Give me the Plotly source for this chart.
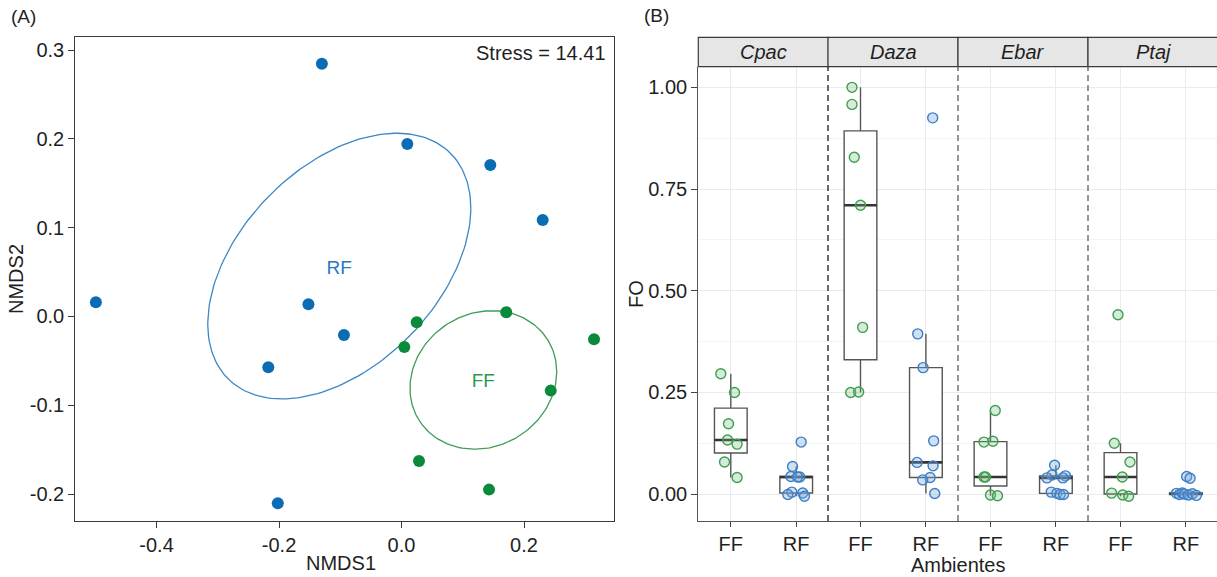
import numpy as np
import plotly.graph_objects as go

W, H = 1217, 577
FONT = "Liberation Sans"

# ---------------- Panel A data (NMDS) ----------------
rf_nmds1 = [-0.130, 0.0095, 0.145, 0.2305, -0.499, -0.152, -0.094, -0.2175, -0.202]
rf_nmds2 = [0.2847, 0.1943, 0.1706, 0.1087, 0.016, 0.0137, -0.0208, -0.0572, -0.2104]
ff_nmds1 = [0.0248, 0.0046, 0.171, 0.3143, 0.2436, 0.0286, 0.1429]
ff_nmds2 = [-0.0066, -0.0343, 0.0047, -0.0257, -0.0835, -0.1627, -0.195]

rf_ell_center = [-0.1016, 0.0568]
rf_ell_cov = [[0.0461, 0.0140], [0.0140, 0.02238]]
ff_ell_center = [0.1336, -0.0715]
ff_ell_cov = [[0.01435, 0.0011], [0.0011, 0.006084]]
stress_text = "Stress = 14.41"

a_xticks = [-0.4, -0.2, 0.0, 0.2]
a_xticklabels = ["-0.4", "-0.2", "0.0", "0.2"]
a_yticks = [-0.2, -0.1, 0.0, 0.1, 0.2, 0.3]
a_yticklabels = ["-0.2", "-0.1", "0.0", "0.1", "0.2", "0.3"]

# ---------------- Panel B data (FO) ----------------
species = ["Cpac", "Daza", "Ebar", "Ptaj"]
ambientes = ["FF", "RF"]

cpac_ff = [0.296, 0.250, 0.173, 0.133, 0.123, 0.079, 0.041]
cpac_rf = [0.128, 0.068, 0.0435, 0.042, 0.042, 0.005, 0.003, -0.001, -0.005]
daza_ff = [1.000, 0.958, 0.828, 0.710, 0.410, 0.250, 0.251]
daza_rf = [0.925, 0.394, 0.311, 0.131, 0.078, 0.0696, 0.041, 0.035, 0.0017]
ebar_ff = [0.2055, 0.128, 0.130, 0.042, 0.042, -0.002, -0.004]
ebar_rf = [0.071, 0.047, 0.040, 0.045, 0.040, 0.005, 0.002, -0.001, -0.001]
ptaj_ff = [0.441, 0.125, 0.079, 0.042, 0.0025, -0.002, -0.005]
ptaj_rf = [0.0435, 0.039, 0.002, -0.001, 0.003, 0.0, -0.002, 0.001, -0.003]

# horizontal jitter (in category units)
cpac_ff_jit = [-0.153, 0.057, -0.035, -0.05, 0.096, -0.096, 0.096]
cpac_rf_jit = [0.076, -0.056, -0.082, 0.055, 0.02, -0.067, 0.10, -0.128, 0.126]
daza_ff_jit = [-0.13, -0.13, -0.095, 0.0, 0.033, -0.15, -0.028]
daza_rf_jit = [0.104, -0.125, -0.043, 0.119, -0.135, 0.11, 0.064, -0.049, 0.135]
ebar_ff_jit = [0.072, -0.10, 0.037, -0.10, -0.076, 0.0, 0.107]
ebar_rf_jit = [-0.02, -0.06, -0.137, 0.146, 0.107, -0.072, 0.015, 0.065, 0.116]
ptaj_ff_jit = [-0.038, -0.095, 0.145, 0.028, -0.135, 0.034, 0.125]
ptaj_rf_jit = [0.012, 0.064, -0.145, -0.1, -0.054, -0.023, 0.038, 0.1, 0.16]

b_yticks = [0.0, 0.25, 0.5, 0.75, 1.0]
b_yticklabels = ["0.00", "0.25", "0.50", "0.75", "1.00"]

groups = {
    "Cpac": [(cpac_ff, cpac_ff_jit), (cpac_rf, cpac_rf_jit)],
    "Daza": [(daza_ff, daza_ff_jit), (daza_rf, daza_rf_jit)],
    "Ebar": [(ebar_ff, ebar_ff_jit), (ebar_rf, ebar_rf_jit)],
    "Ptaj": [(ptaj_ff, ptaj_ff_jit), (ptaj_rf, ptaj_rf_jit)],
}

# ---------------- styles ----------------
BLUE = "#0b6cb6"
GREEN = "#0b8a3c"
BLUE_LINE = "#3b87c7"
GREEN_LINE = "#3f9d57"
PT_EDGE = {"FF": "#3f9f4f", "RF": "#3c7fc6"}
PT_FILL = {"FF": "rgba(120,190,130,0.30)", "RF": "rgba(120,165,220,0.35)"}
TXT = "#1f1f1f"
FS = 20


def px_x(p):
    return p / W


def px_y(p):
    return 1 - p / H


fig = go.Figure()

# ---------- Panel A ----------
def ellipse(center, cov, n=200):
    L = np.linalg.cholesky(np.array(cov))
    t = np.linspace(0, 2 * np.pi, n)
    pts = L @ np.vstack([np.cos(t), np.sin(t)])
    return center[0] + pts[0], center[1] + pts[1]

ex, ey = ellipse(rf_ell_center, rf_ell_cov)
fig.add_trace(go.Scatter(x=ex, y=ey, mode="lines", line=dict(color=BLUE_LINE, width=1.3),
                         xaxis="x", yaxis="y", showlegend=False, hoverinfo="skip"))
ex, ey = ellipse(ff_ell_center, ff_ell_cov)
fig.add_trace(go.Scatter(x=ex, y=ey, mode="lines", line=dict(color=GREEN_LINE, width=1.3),
                         xaxis="x", yaxis="y", showlegend=False, hoverinfo="skip"))
fig.add_trace(go.Scatter(x=rf_nmds1, y=rf_nmds2, mode="markers",
                         marker=dict(color=BLUE, size=12), xaxis="x", yaxis="y", showlegend=False))
fig.add_trace(go.Scatter(x=ff_nmds1, y=ff_nmds2, mode="markers",
                         marker=dict(color=GREEN, size=12), xaxis="x", yaxis="y", showlegend=False))
fig.add_trace(go.Scatter(x=[rf_ell_center[0]], y=[rf_ell_center[1] - 0.004], mode="text", text=["RF"],
                         textfont=dict(family=FONT, size=19, color="#2a78bf"),
                         xaxis="x", yaxis="y", showlegend=False, hoverinfo="skip"))
fig.add_trace(go.Scatter(x=[ff_ell_center[0]], y=[ff_ell_center[1] - 0.0025], mode="text", text=["FF"],
                         textfont=dict(family=FONT, size=19, color="#2c9a4c"),
                         xaxis="x", yaxis="y", showlegend=False, hoverinfo="skip"))

# ---------- Panel B ----------
panel_left = [698.3, 828.0, 958.0, 1088.0]
panel_w = 130.0
xaxis_names = ["x2", "x3", "x4", "x5"]

for si, sp in enumerate(species):
    xa = xaxis_names[si]
    for ai, amb in enumerate(ambientes):
        vals, jit = groups[sp][ai]
        pos = ai + 1
        v = np.array(vals)
        q1, med, q3 = np.percentile(v, [25, 50, 75])
        iqr = q3 - q1
        lo = v[v >= q1 - 1.5 * iqr].min()
        hi = v[v <= q3 + 1.5 * iqr].max()
        fig.add_trace(go.Box(x=[pos], q1=[q1], median=[med], q3=[q3], lowerfence=[lo], upperfence=[hi],
                             width=0.5, whiskerwidth=0, fillcolor="white",
                             line=dict(color="#555555", width=1.4), boxpoints=False,
                             xaxis=xa, yaxis="y2", showlegend=False, hoverinfo="skip"))
        fig.add_trace(go.Scatter(x=[pos - 0.25, pos + 0.25], y=[med, med], mode="lines",
                                 line=dict(color="#333333", width=2.6),
                                 xaxis=xa, yaxis="y2", showlegend=False, hoverinfo="skip"))
        fig.add_trace(go.Scatter(x=[pos + j for j in jit], y=vals, mode="markers",
                                 marker=dict(size=10, color=PT_FILL[amb],
                                             line=dict(color=PT_EDGE[amb], width=1.4)),
                                 xaxis=xa, yaxis="y2", showlegend=False))

tickfont = dict(family=FONT, size=FS, color=TXT)

layout = dict(
    width=W, height=H, autosize=False,
    margin=dict(l=0, r=0, t=0, b=0, pad=0),
    paper_bgcolor="white", plot_bgcolor="white",
    font=dict(family=FONT, size=FS, color=TXT),
    showlegend=False,
    xaxis=dict(domain=[px_x(75.3), px_x(614.3)], range=[-0.5326, 0.3474], anchor="y",
               tickvals=a_xticks, ticktext=a_xticklabels, tickfont=tickfont,
               showgrid=False, zeroline=False, showline=True, mirror=True,
               linecolor="#3a3a3a", linewidth=1.2, ticks="outside", ticklen=6, tickcolor="#3a3a3a"),
    yaxis=dict(domain=[px_y(520.7), px_y(36.7)], range=[-0.230, 0.3151], anchor="x",
               tickvals=a_yticks, ticktext=a_yticklabels, tickfont=tickfont,
               showgrid=False, zeroline=False, showline=True, mirror=True,
               linecolor="#3a3a3a", linewidth=1.2, ticks="outside", ticklen=6, tickcolor="#3a3a3a"),
    yaxis2=dict(domain=[px_y(521.0), px_y(66.7)], range=[-0.066, 1.0507], anchor="x2",
                tickvals=b_yticks, ticktext=b_yticklabels, tickfont=tickfont,
                showgrid=True, gridcolor="#ebebeb", gridwidth=1.2, zeroline=False,
                showline=True, linecolor="#555555", linewidth=1.2,
                ticks="outside", ticklen=6, tickcolor="#444444",
                minor=dict(tickvals=[0.125, 0.375, 0.625, 0.875], showgrid=True,
                           gridcolor="#f4f4f4", gridwidth=1, ticks="")),
)
for si, xa in enumerate(xaxis_names):
    left = panel_left[si]
    right = min(left + panel_w, W)
    scale = 65.4
    rng = [1 - 32.5 / scale, 1 - 32.5 / scale + (right - left) / scale]
    layout["xaxis" + xa[1:]] = dict(
        domain=[px_x(left), px_x(right)], range=rng, anchor="y2",
        tickvals=[1, 2], ticktext=ambientes, tickfont=tickfont,
        showgrid=True, gridcolor="#ebebeb", gridwidth=1.2, zeroline=False,
        showline=True, linecolor="#555555", linewidth=1.2,
        ticks="outside", ticklen=5, tickcolor="#444444")

shapes = []
annotations = []
# strips
for si, sp in enumerate(species):
    left = panel_left[si]
    right = min(left + panel_w, W + 5)
    shapes.append(dict(type="rect", xref="paper", yref="paper",
                       x0=px_x(left), x1=px_x(right), y0=px_y(66.7), y1=px_y(37.3),
                       fillcolor="#e6e6e6", line=dict(color="#3a3a3a", width=1.2), layer="above"))
    annotations.append(dict(text="<i>%s</i>" % sp, xref="paper", yref="paper",
                            x=px_x(left + panel_w / 2), y=px_y(52), showarrow=False,
                            xanchor="center", yanchor="middle",
                            font=dict(family=FONT, size=FS, color=TXT)))
# dashed dividers
div_colors = ["#2a2a2a", "#6a6a6a", "#6a6a6a"]
for k, xp in enumerate(panel_left[1:]):
    shapes.append(dict(type="line", xref="paper", yref="paper",
                       x0=px_x(xp), x1=px_x(xp), y0=px_y(521), y1=px_y(66.7),
                       line=dict(color=div_colors[k], width=1.4, dash="6px,4px"), layer="above"))

annotations += [
    dict(text="(A)", xref="paper", yref="paper", x=px_x(9), y=px_y(17), showarrow=False,
         xanchor="left", yanchor="middle", font=dict(family=FONT, size=19, color=TXT)),
    dict(text="(B)", xref="paper", yref="paper", x=px_x(642), y=px_y(16), showarrow=False,
         xanchor="left", yanchor="middle", font=dict(family=FONT, size=19, color=TXT)),
    dict(text=stress_text, xref="paper", yref="paper", x=px_x(608), y=px_y(52.5), showarrow=False,
         xanchor="right", yanchor="middle", font=dict(family=FONT, size=FS, color=TXT)),
    dict(text="NMDS1", xref="paper", yref="paper", x=px_x(341), y=px_y(563), showarrow=False,
         xanchor="center", yanchor="middle", font=dict(family=FONT, size=FS, color=TXT)),
    dict(text="NMDS2", xref="paper", yref="paper", x=px_x(16), y=px_y(279), showarrow=False,
         textangle=-90, xanchor="center", yanchor="middle", font=dict(family=FONT, size=FS, color=TXT)),
    dict(text="FO", xref="paper", yref="paper", x=px_x(636), y=px_y(294), showarrow=False,
         textangle=-90, xanchor="center", yanchor="middle", font=dict(family=FONT, size=FS, color=TXT)),
    dict(text="Ambientes", xref="paper", yref="paper", x=px_x(958), y=px_y(565), showarrow=False,
         xanchor="center", yanchor="middle", font=dict(family=FONT, size=FS, color=TXT)),
]
layout["shapes"] = shapes
layout["annotations"] = annotations
fig.update_layout(**layout)

fig.write_html("out.html")
